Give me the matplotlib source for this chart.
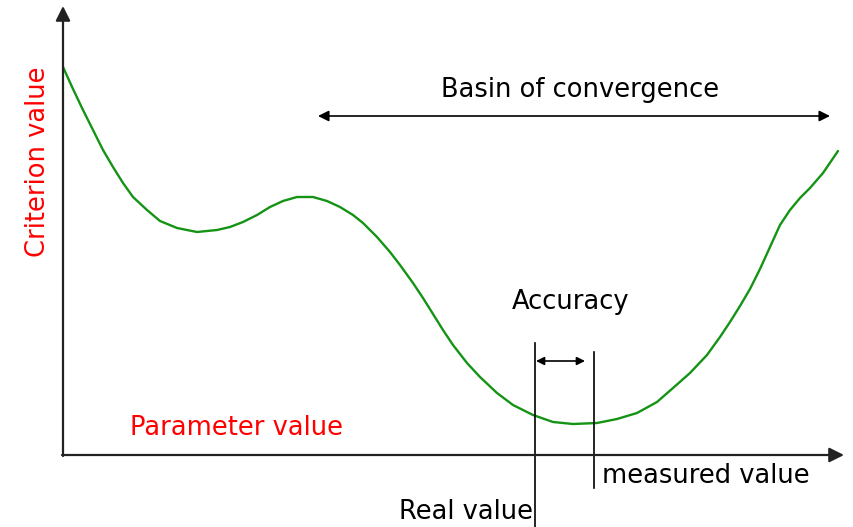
import matplotlib
matplotlib.use("Agg")
import matplotlib.pyplot as plt

plt.rcParams['font.family'] = ['DejaVu Sans']

# Criterion curve (parameter value, criterion value)
param = [0, 10, 20, 30, 40, 50, 60, 70, 84, 97,
         114, 134, 154, 167, 180, 194, 207, 220, 234, 250,
         264, 277, 290, 300, 314, 327, 337, 350, 360, 370,
         380, 390, 404, 417, 434, 450, 470, 490, 510, 534,
         554, 574, 594, 610, 627, 644, 657, 667, 677, 687,
         697, 707, 717, 727, 737, 747, 760, 775]
criterion = [388, 366, 345, 325, 305, 288, 272, 258, 245, 234,
             227, 223, 225, 228, 233, 240, 248, 254, 258, 258,
             254, 248, 240, 232, 218, 203, 190, 172, 157, 141,
             125, 110, 92, 78, 62, 50, 40, 33, 31, 32,
             36, 42, 53, 67, 82, 100, 118, 133, 149, 166,
             186, 208, 230, 245, 257, 267, 282, 304]

real_value = 472
measured_value = 531
basin = (255, 767)

fig = plt.figure(figsize=(8.54, 5.27), dpi=100)
ax = fig.add_axes([0, 0, 1, 1])
ax.set_xlim(-63, 791)
ax.set_ylim(-72, 455)
ax.axis('off')

ax.plot(param, criterion, color='#159315', lw=1.7, solid_joinstyle='round',
        solid_capstyle='round')

# axes with arrows
ax.annotate('', xy=(0, 449), xytext=(0, -1),
            arrowprops=dict(arrowstyle='-|>', color='#222222', lw=1.6,
                            mutation_scale=22, shrinkA=0, shrinkB=0))
ax.annotate('', xy=(781, 0), xytext=(-1, 0),
            arrowprops=dict(arrowstyle='-|>', color='#222222', lw=1.6,
                            mutation_scale=22, shrinkA=0, shrinkB=0))

# basin arrow
ax.annotate('', xy=(basin[1], 339), xytext=(basin[0], 339),
            arrowprops=dict(arrowstyle='<|-|>', color='black', lw=1.2,
                            mutation_scale=16, shrinkA=0, shrinkB=0))
fs = 18.5
ax.text(517, 365, 'Basin of convergence', fontsize=fs,
        ha='center', va='center')

# real / measured value lines
ax.plot([real_value, real_value], [112, -72], color='black', lw=1.2)
ax.plot([measured_value, measured_value], [103, -33], color='black', lw=1.2)
ax.annotate('', xy=(measured_value - 9, 94), xytext=(real_value + 1, 94),
            arrowprops=dict(arrowstyle='<|-|>', color='black', lw=1.2,
                            mutation_scale=12, shrinkA=0, shrinkB=0))
ax.text(508, 153, 'Accuracy', fontsize=fs, ha='center', va='center')
ax.text(real_value - 2, -57, 'Real value', fontsize=fs, ha='right', va='center')
ax.text(measured_value + 8, -21, 'measured value', fontsize=fs, ha='left', va='center')

ax.text(67, 27, 'Parameter value', fontsize=fs, ha='left', va='center', color='red')
ax.text(-25, 293, 'Criterion value', fontsize=fs, ha='center', va='center',
        color='red', rotation=90)

fig.savefig('out.png', dpi=100)
